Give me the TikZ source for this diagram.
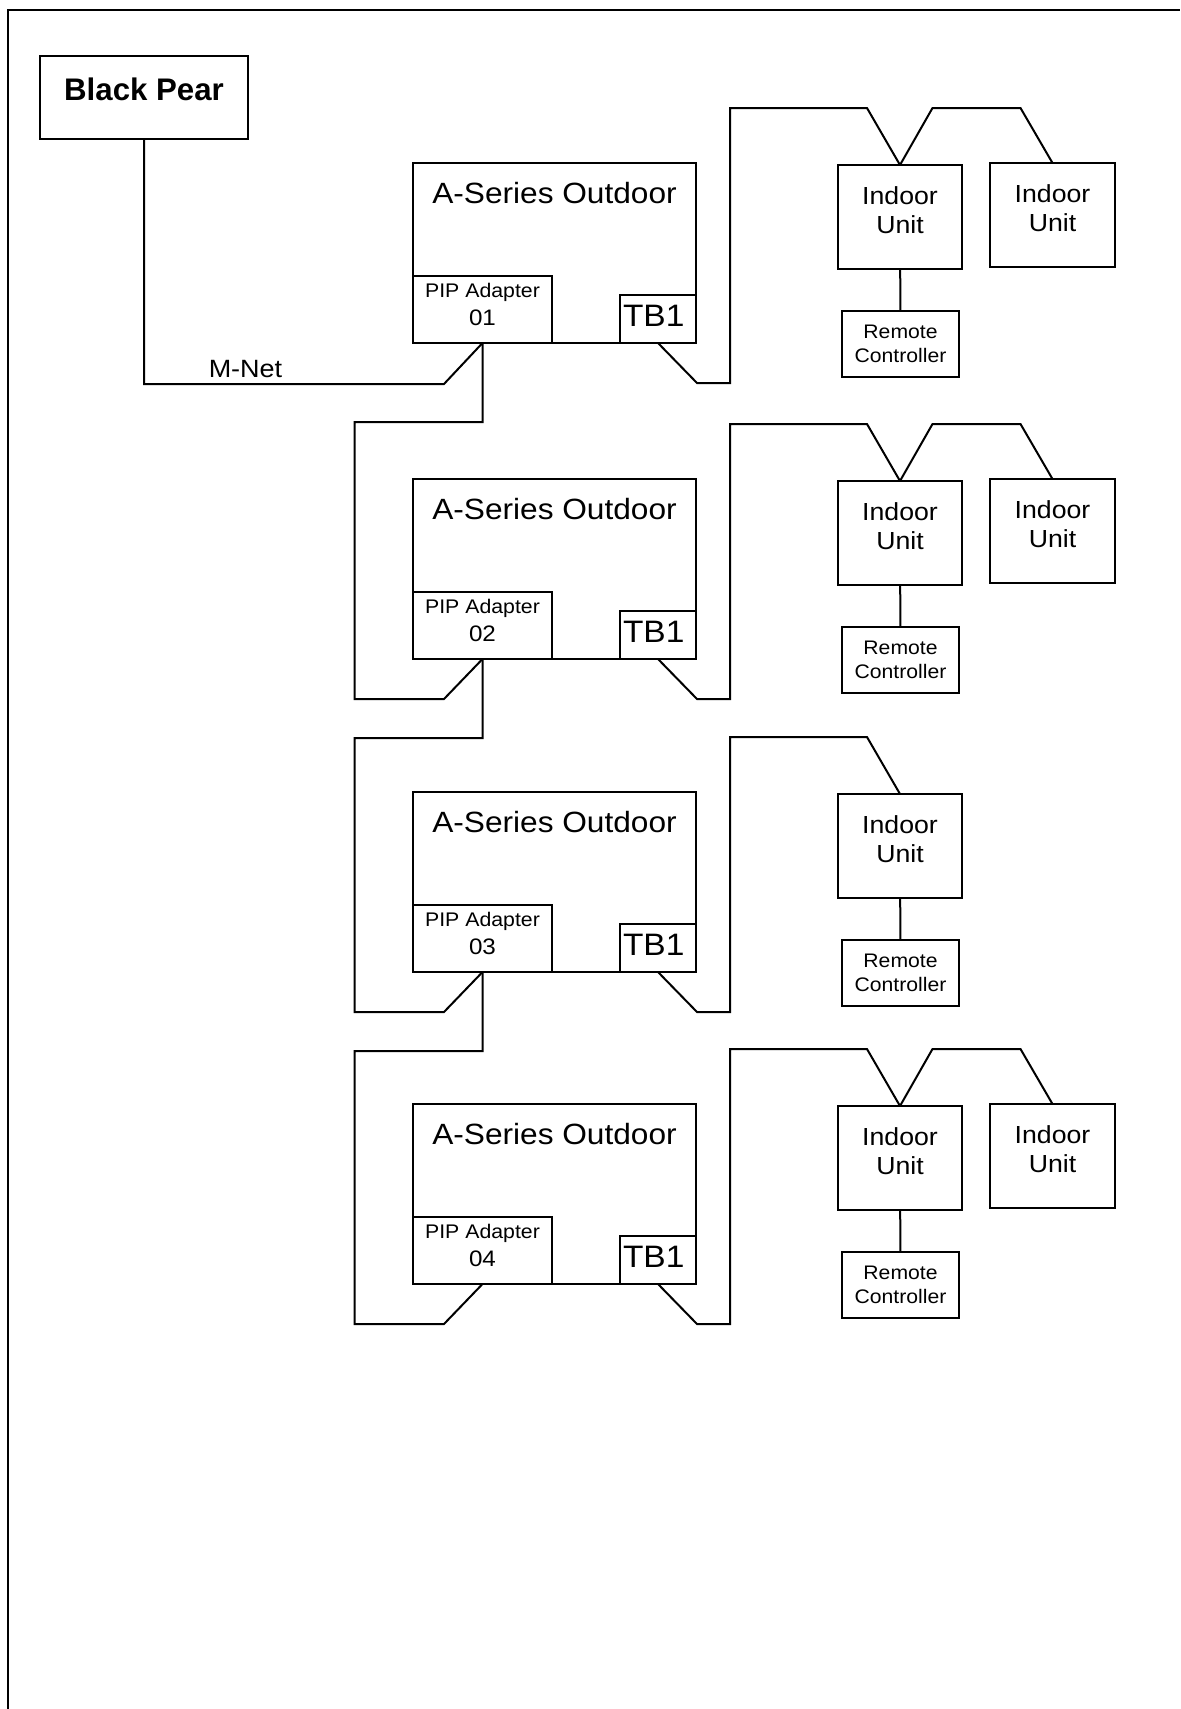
\documentclass[tikz,border=0pt]{standalone}
\usepackage{fontspec}
\setmainfont{Liberation Sans}[FakeStretch=1.08]
\newfontfamily\plainsans{Liberation Sans}
\usepackage{tikz}
\usetikzlibrary{positioning,calc}
\tikzset{box/.style={draw,line width=1pt,inner sep=0pt,outer sep=0pt,align=center},wire/.style={line width=1pt,line join=miter},bigfont/.style={font=\fontsize{14.65}{17.5}\selectfont},bpfont/.style={font=\plainsans\bfseries\fontsize{15.6}{18}\selectfont},unitfont/.style={font=\fontsize{12.35}{14.5}\selectfont},pipfont/.style={font=\fontsize{9.85}{14}\selectfont},tbfont/.style={font=\fontsize{15.5}{18}\selectfont},rcfont/.style={font=\fontsize{9.8}{12}\selectfont},netfont/.style={font=\fontsize{12.5}{15}\selectfont}}
\newcommand{\pipnum}[1]{{\fontsize{11.2}{14}\selectfont #1}}

\begin{document}
\begin{tikzpicture}[x=0.5pt,y=-0.5pt]
\useasboundingbox (0,0) rectangle (1180,1709);
\draw[wire] (7.5,1709) -- (7.5,9.5) -- (1180,9.5);
\node[box,bpfont,minimum width=104pt,text height=22pt,text depth=19.5pt,anchor=north west] (bp) at (40,56) {Black Pear};
\foreach \r/\t/\n in {1/163/2,2/479/2,3/792/1,4/1104/2}{
\node[box,bigfont,minimum width=141.5pt,text height=20pt,text depth=70pt,anchor=north west] (out\r) at (413,\t) {A-Series Outdoor};
\node[box,pipfont,minimum width=69.5pt,text height=24.5pt,text depth=9pt,anchor=south west] (pip\r) at (out\r.south west) {PIP Adapter\\\pipnum{0\r}};
\node[box,tbfont,text width=35pt,inner xsep=1.5pt,align=left,text height=15.5pt,text depth=8.5pt,anchor=south east] (tb\r) at (out\r.south east) {TB1};
\node[box,unitfont,minimum width=62pt,text height=34pt,text depth=18pt,anchor=north west] (inA\r) at (838,\t+2) {Indoor\\Unit};
\node[box,rcfont,minimum width=58.5pt,text height=25.5pt,text depth=7.5pt,anchor=north west] (rc\r) at (842,\t+148) {Remote\\Controller};
\draw[wire] (inA\r) -- (rc\r);
\draw[wire] (tb\r.south) -- ++(39,40) -- ++(33,0) |- (867,\t-55) -- (inA\r.north);
\ifnum\n=2
\node[box,unitfont,minimum width=62.5pt,text height=34pt,text depth=18pt,anchor=north west] (inB\r) at (990,\t) {Indoor\\Unit};
\draw[wire] (inA\r.north) -- (932.5,\t-55) -- (1020.5,\t-55) -- (inB\r.north);
\fi}
\draw[wire] (bp.south) |- (444,384) -- (pip1.south);
\node[netfont,anchor=base] (mnet) at (245.5,377) {M-Net};
\foreach \a/\b/\t in {1/2/479,2/3/792,3/4/1104}
\draw[wire] (pip\a.south) -- ++(0,79) -| (354.5,\t+220) -- (444,\t+220) -- (pip\b.south);
\end{tikzpicture}
\end{document}
